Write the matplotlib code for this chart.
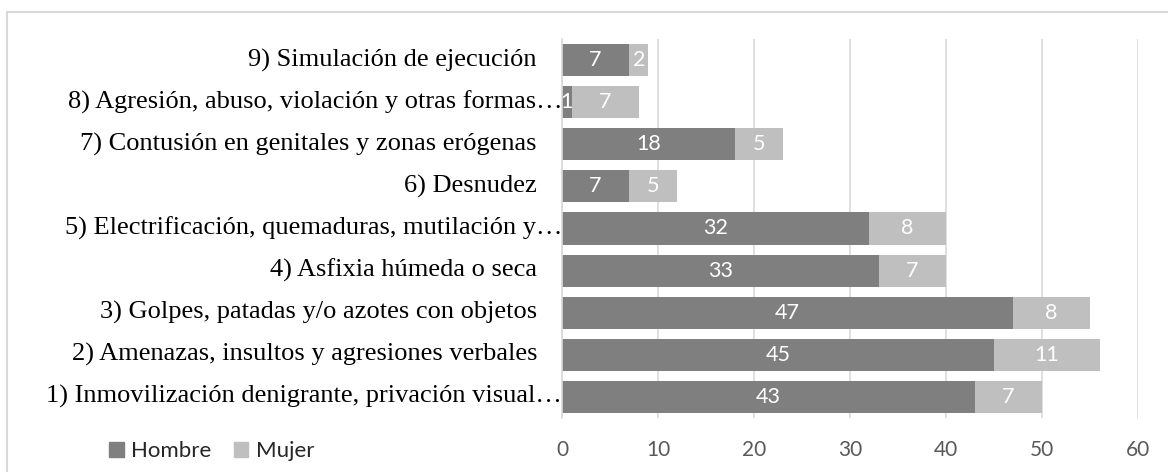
"""Stacked horizontal bars: tipos de tortura por sexo."""
import matplotlib

matplotlib.use("Agg")
import matplotlib.pyplot as plt
from matplotlib.patches import Patch, Rectangle

categories = [
    "1) Inmovilización denigrante, privación visual…",
    "2) Amenazas, insultos y agresiones verbales",
    "3) Golpes, patadas y/o azotes con objetos",
    "4) Asfixia húmeda o seca",
    "5) Electrificación, quemaduras, mutilación y…",
    "6) Desnudez",
    "7) Contusión en genitales y zonas erógenas",
    "8) Agresión, abuso, violación y otras formas…",
    "9) Simulación de ejecución",
]
hombre = [43, 45, 47, 33, 32, 7, 18, 1, 7]
mujer = [7, 11, 8, 7, 8, 5, 5, 7, 2]
xticks = [0, 10, 20, 30, 40, 50, 60]

C_HOMBRE = "#7f7f7f"
C_MUJER = "#bfbfbf"
GRID = "#d9d9d9"
SANS = "Lato"
SERIF = "Liberation Serif"

W, H = 1168, 472
fig = plt.figure(figsize=(W / 100, H / 100), dpi=100)
ax = fig.add_axes([562 / W, 1 - 418 / H, (1138 - 562) / W, (418 - 39) / H])

y = list(range(len(categories)))
ax.barh(y, hombre, height=0.76, color=C_HOMBRE, zorder=2)
ax.barh(y, mujer, left=hombre, height=0.76, color=C_MUJER, zorder=2)

for i, (h, m) in enumerate(zip(hombre, mujer)):
    ax.text(h / 2, i, str(h), ha="center", va="center", color="white",
            fontsize=15.5, family=SANS, zorder=3)
    ax.text(h + m / 2, i, str(m), ha="center", va="center", color="white",
            fontsize=15.5, family=SANS, zorder=3)

# category labels (truncated ones run right up to the axis, like Excel)
for i, lab in enumerate(categories):
    pad = 0 if lab.endswith("…") else -18
    ax.annotate(lab, xy=(0, i), xycoords=("axes fraction", "data"),
                xytext=(pad, 0), textcoords="offset points",
                ha="right", va="center", fontsize=19, family=SERIF,
                color="black")

ax.set_xlim(0, 60)
ax.set_ylim(-0.5, len(categories) - 0.5)
ax.set_xticks(xticks)
ax.set_xticklabels([str(t) for t in xticks], fontsize=15, family=SANS,
                   color="#595959")
ax.set_yticks([])
ax.tick_params(axis="x", length=0, pad=16)
ax.grid(axis="x", color=GRID, linewidth=1.2, zorder=0)
for s in ("top", "right", "bottom"):
    ax.spines[s].set_visible(False)
ax.spines["left"].set_color(GRID)
ax.spines["left"].set_linewidth(1.2)

handles = [Patch(color=C_HOMBRE, label="Hombre"), Patch(color=C_MUJER, label="Mujer")]
fig.legend(handles=handles, loc="center left", bbox_to_anchor=(98 / W, 1 - 451 / H),
           ncol=2, frameon=False, borderpad=0, handlelength=0.65, handleheight=0.65,
           handletextpad=0.35, columnspacing=1.0,
           prop={"family": SANS, "size": 16}, labelcolor="#262626")

# chart-area border (only top/left fall inside the image)
fig.add_artist(Rectangle((6.5 / W, -0.1), 1.2, 1 - 11.5 / H + 0.1,
                         transform=fig.transFigure, fill=False,
                         edgecolor=GRID, linewidth=1.5))

fig.savefig("out.png", dpi=100)
